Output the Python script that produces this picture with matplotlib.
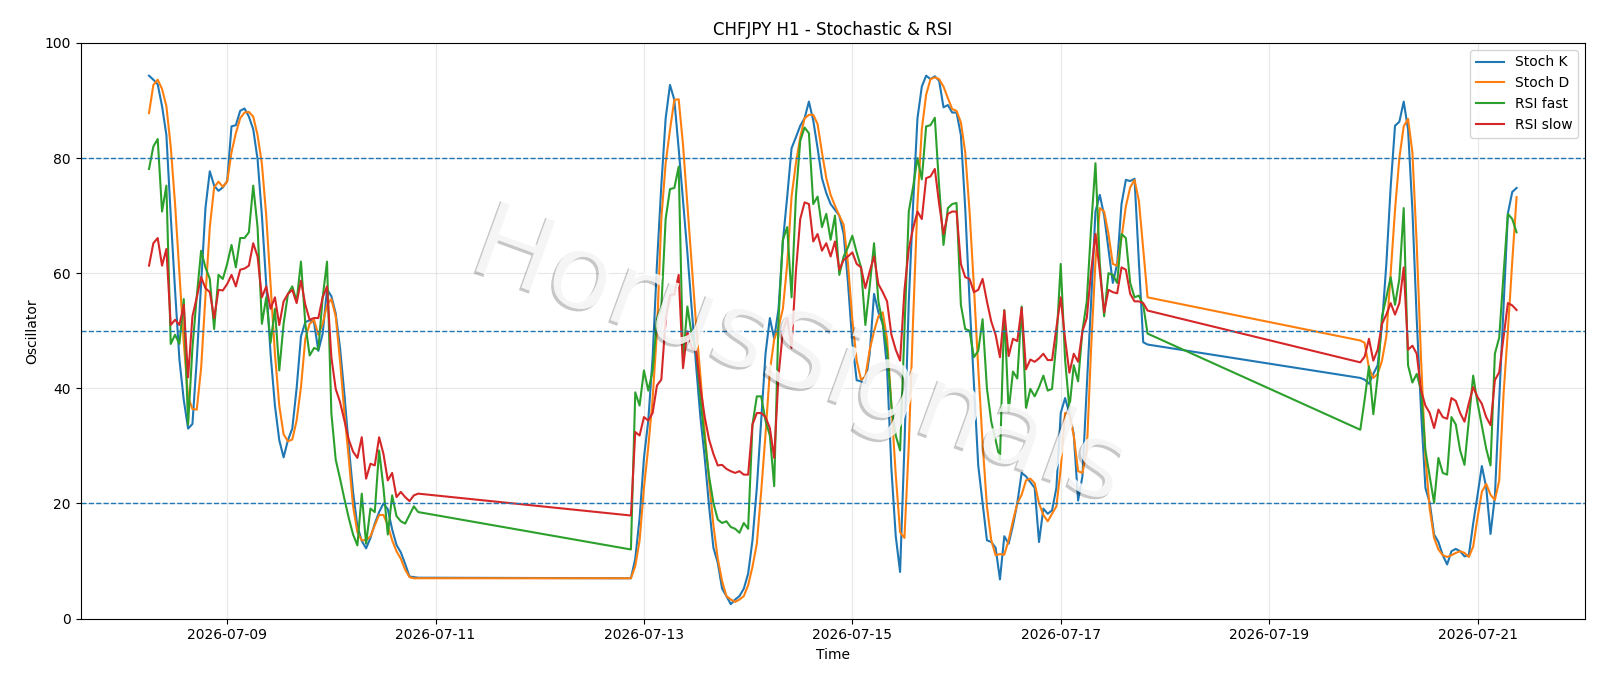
import matplotlib
matplotlib.use("Agg")
import matplotlib.pyplot as plt
import matplotlib.dates as mdates
import matplotlib.patheffects as pe
import pandas as pd

# Segment definitions (hourly bars, weekend gaps)
seg_starts = ["2026-07-08 06:00", "2026-07-12 21:00", "2026-07-19 21:00"]
seg_lengths = [63, 120, 37]

stoch_k = [
    # seg 1
    94.3, 93.6, 92.8, 89, 84, 70, 57, 45, 38, 33,
    33.8, 45, 58, 71.3, 77.7, 75.2, 74.3, 74.9, 76, 85.5,
    85.7, 88.2, 88.6, 87.2, 85, 79.8, 70, 58, 46, 37,
    31, 28, 31, 33, 40, 49, 51.5, 51.8, 51.5, 46.5,
    49.5, 57.2, 56, 53, 47, 39, 30, 22, 16, 13.5,
    12.2, 14, 16.5, 18.5, 20, 19, 15.5, 12.8, 11.5, 9.5,
    7.3, 7.2, 7.1,
    # seg 2
    7.0, 10.4, 17.5, 27.9, 34.4, 45.4, 61.6, 75.2, 86.9, 92.7,
    90.1, 81.6, 72.6, 63.6, 53.8, 44.1, 35, 27.9, 19.5, 12.3,
    9.7, 5.2, 3.9, 2.5, 3.3, 3.9, 5.2, 7.8, 13.6, 22.7,
    34.4, 46, 52.2, 48.6, 53.8, 65.5, 73.3, 81.7, 83.6, 85.6,
    86.9, 89.8, 86.5, 81.7, 76.5, 73.9, 72, 71, 70, 66.8,
    58.3, 47.9, 41.4, 41.2, 40.9, 46, 56.4, 53.2, 51.2, 43.5,
    26, 14.3, 8.1, 30, 55, 72, 86.9, 92.4, 94.3, 93.7,
    94.2, 93.4, 88.8, 89.2, 87.9, 87.9, 84, 71.3, 55.1, 40.9,
    26.6, 20.1, 13.6, 13.3, 12.3, 6.8, 14.3, 13, 16.2, 20.1,
    25.3, 24.7, 23.7, 22.7, 13.3, 19.1, 18.2, 18.8, 22.7, 35.7,
    38.3, 35.7, 32, 20.5, 24.7, 40.2, 55, 70.7, 73.6, 70,
    64.2, 58.3, 61.6, 72, 76.2, 76, 76.4, 62, 48, 47.6,
    # seg 3
    41.8, 41.5, 40.8, 42.5, 44, 51, 61.6, 75, 85.6, 86.3,
    89.8, 85, 71, 52, 36, 22.7, 20.1, 14.6, 13.3, 11,
    9.4, 11.7, 12.1, 11.7, 10.8, 11, 16.5, 21.4, 26.5, 22.8,
    14.7, 21.2, 38, 54, 70.4, 74.1, 74.8,
]

stoch_d = [
    # seg 1
    87.8, 92.7, 93.6, 92, 89, 82, 72, 60, 48, 38.5,
    36.4, 36.3, 43.5, 56, 68, 74.9, 75.9, 75, 75.9, 81,
    84.3, 86.9, 87.9, 88, 87.2, 84, 79, 70, 58, 46,
    37, 32, 30.8, 31.1, 34.4, 40.2, 48.6, 51.2, 51.9, 49.3,
    51.2, 54.5, 55.5, 52.5, 44.8, 35.7, 27.9, 19.5, 15, 13.6,
    13.6, 14.3, 16.2, 18, 18, 16.2, 13.6, 11.7, 10.4, 8.5,
    7.2, 7.0, 7.0,
    # seg 2
    7.0, 9.1, 13.6, 22.7, 29.8, 38.2, 49.9, 69.4, 79.1, 84.9,
    90.1, 90.2, 82.3, 71.9, 61.6, 51.2, 42.2, 32.4, 24, 16.2,
    10.4, 6.5, 3.9, 3.3, 2.9, 3.3, 3.9, 5.8, 9, 13,
    22, 32, 43, 48.5, 50.6, 53.8, 61.6, 73.3, 79.1, 83.6,
    86.9, 87.5, 87.5, 85.9, 81, 76.5, 73.6, 71.7, 70, 68.4,
    61.6, 51.9, 44.8, 41.5, 42, 46.7, 49.9, 52.5, 53.2, 48.6,
    37, 25, 15, 14, 30, 52, 72, 85, 91, 93.7,
    94, 93.7, 92.4, 90.4, 88.5, 88.2, 86.2, 81, 70.7, 57.7,
    43.5, 30.5, 19.5, 13.6, 11, 11.2, 11.1, 13.6, 17, 20,
    21.5, 24, 24.3, 23.5, 20, 18, 16.9, 18.2, 19.5, 26,
    35.7, 35.5, 31.8, 25.6, 25.3, 29, 47, 62, 71.3, 70.7,
    66.8, 61.6, 61.3, 66.1, 71.6, 74.9, 76.2, 72.6, 64.2, 55.8,
    # seg 3
    48.3, 47.9, 43.5, 41.8, 42.5, 44.8, 49, 60, 71, 80,
    85.5, 86.8, 81, 65, 45, 28, 19, 14, 12, 11,
    10.7, 11, 11.4, 11.7, 11.4, 10.7, 12.5, 17.5, 22, 23.4,
    21.5, 20.6, 24, 39, 50, 62, 73.2,
]

rsi_fast = [
    # seg 1
    78.1, 82, 83.3, 70.7, 75.2, 47.7, 49.3, 47.7, 55.5, 33.7,
    47, 56, 63.9, 61, 59, 50.3, 59.7, 59, 61.6, 64.9,
    61, 66.1, 66.1, 67.1, 75.2, 68, 51.2, 55.8, 47.9, 53.8,
    43.1, 51.2, 56.4, 57.7, 55.1, 62, 51.2, 45.7, 47, 46.7,
    55.8, 62, 35.7, 27.6, 24.3, 20.8, 17.5, 14.6, 12.7, 21.7,
    13, 19.1, 18.5, 29.2, 22.7, 14.6, 21.4, 17.8, 16.9, 16.5,
    18, 19.5, 18.5,
    # seg 2
    12, 39.3, 37, 43.1, 39.6, 43, 52, 54, 69.4, 74.6,
    74.8, 78.5, 45, 54.2, 49.3, 46.7, 38.2, 31, 24.7, 20.1,
    17.2, 16.6, 16.9, 15.9, 15.6, 14.9, 16.6, 15.6, 33.7, 38.6,
    38.6, 34.4, 31.8, 23, 52, 65.8, 68, 55.8, 73.3, 83,
    85.3, 84.3, 72, 73.3, 68, 70.3, 65.8, 70, 59.7, 62.9,
    64.5, 66.5, 63.6, 61, 51, 57.7, 65.2, 55.1, 51.2, 46.7,
    37, 31.8, 29.2, 50, 70.7, 75, 80, 76.3, 85.5, 85.7,
    87, 75, 64.9, 71.3, 72, 72.2, 54.5, 50.3, 50, 45.4,
    46.5, 52, 40, 34.2, 31, 27.6, 53.6, 36, 42.9, 41.7,
    54.2, 36.5, 39.9, 38.6, 40.2, 42.2, 39.6, 39.9, 48, 61.6,
    45, 36.5, 44, 41.2, 50, 55.1, 68, 79.1, 61.6, 52.5,
    60, 59.7, 58.3, 66.8, 66.1, 58.3, 55.8, 56.1, 54.5, 49.5,
    # seg 3
    32.8, 38, 43.8, 35.5, 42, 52.5, 55.8, 59.3, 54.5, 59,
    71.3, 44, 41, 42.5, 39.6, 29.2, 24.6, 20.1, 27.9, 25.3,
    25, 35, 33.7, 29.2, 26.7, 34.4, 42.2, 37.5, 33.5, 29.5,
    26.6, 46, 48.8, 59.9, 70.3, 69.4, 67.1,
]

rsi_slow = [
    # seg 1
    61.3, 65.2, 66.1, 61.3, 64.2, 51, 51.9, 51, 54.5, 41.9,
    52.5, 55.8, 59.3, 57.4, 56.7, 52.2, 57.1, 57, 58.1, 59.7,
    57.7, 60.6, 60.8, 61.3, 65.2, 62.9, 55.8, 57.7, 53.8, 55.8,
    51, 55.1, 56.4, 57.1, 54.8, 58.7, 54.5, 51.9, 52.2, 52.2,
    55.8, 57.7, 45.4, 39.9, 37.6, 34.4, 31.1, 29, 27.9, 31.5,
    24.3, 26.9, 26.6, 31.5, 28.6, 24, 25.3, 21.1, 22, 21.1,
    20.4, 21.4, 21.7,
    # seg 2
    17.9, 32.4, 31.8, 35, 34.4, 35.7, 40.5, 41.5, 51.9, 56.2,
    56.3, 59.7, 43.5, 49.9, 47, 46.7, 40.2, 35, 31.1, 28.6,
    26.6, 26.7, 26, 25.6, 25.3, 25.6, 25, 25, 33.7, 35.7,
    35.7, 35, 33.1, 27.9, 42.2, 49.9, 52.2, 47, 60.3, 69.4,
    72.3, 72, 65.5, 66.8, 63.9, 65.2, 62.9, 65.5, 60.6, 62.3,
    62.9, 63.6, 61.6, 61, 57.4, 60.3, 62.9, 58.1, 56.7, 55.1,
    49.3, 46.7, 44.8, 57, 64.2, 67.8, 70.7, 69.4, 76.5, 76.8,
    78.1, 72, 66.8, 70.3, 70.7, 70.7, 61.6, 59.3, 59, 56.7,
    57.1, 59, 55.1, 51.6, 49.3, 45.4, 53.5, 45.6, 48.6, 48.2,
    54, 43.3, 45, 44.6, 45.2, 46, 44.9, 44.9, 50.5, 55.8,
    48.6, 42.7, 46, 44.6, 49.9, 52.2, 60.3, 66.8, 60.3, 53.2,
    57.1, 56.7, 56.5, 61, 60.6, 56.4, 55.1, 55.1, 54.8, 53.5,
    # seg 3
    44.5, 45.5, 48.6, 44.8, 46.7, 51.2, 52.8, 54.8, 52.8, 54.8,
    61, 46.7, 47.4, 46, 39.6, 37, 35.7, 33.1, 36.3, 35,
    34.7, 38.3, 37.8, 35.7, 34.2, 37.4, 40.2, 38.5, 37.3, 35,
    33.6, 41.4, 42.8, 48.9, 54.8, 54.4, 53.6,
]

levels = [20, 50, 80]

times = pd.DatetimeIndex([])
for s, n in zip(seg_starts, seg_lengths):
    times = times.append(pd.date_range(s, periods=n, freq="h"))

fig = plt.figure(figsize=(16, 6.86), dpi=100)
ax = fig.add_axes([0.0504, 0.0983, 0.9402, 0.8392])

ax.plot(times, stoch_k, label="Stoch K", lw=1.5)
ax.plot(times, stoch_d, label="Stoch D", lw=1.5)
ax.plot(times, rsi_fast, label="RSI fast", lw=1.5)
ax.plot(times, rsi_slow, label="RSI slow", lw=1.5)
for lv in levels:
    ax.axhline(lv, color="tab:blue", linestyle="--", linewidth=1)

ax.set_ylim(0, 100)
ax.grid(True, alpha=0.3)
ax.xaxis.set_major_locator(mdates.DayLocator(bymonthday=range(1, 32, 2)))
ax.xaxis.set_major_formatter(mdates.DateFormatter("%Y-%m-%d"))
ax.set_title("CHFJPY H1 - Stochastic & RSI")
ax.set_xlabel("Time")
ax.set_ylabel("Oscillator")
ax.legend(loc="upper right")

fig.text(0.5, 0.478, "HorusSignals", fontsize=76, color="white", alpha=0.6,
         rotation=-20, ha="center", va="center", zorder=10,
         path_effects=[pe.withSimplePatchShadow(offset=(-1.8, -1.8),
                                                shadow_rgbFace="black", alpha=0.22),
                       pe.Normal()])

fig.savefig("out.png", dpi=100)
